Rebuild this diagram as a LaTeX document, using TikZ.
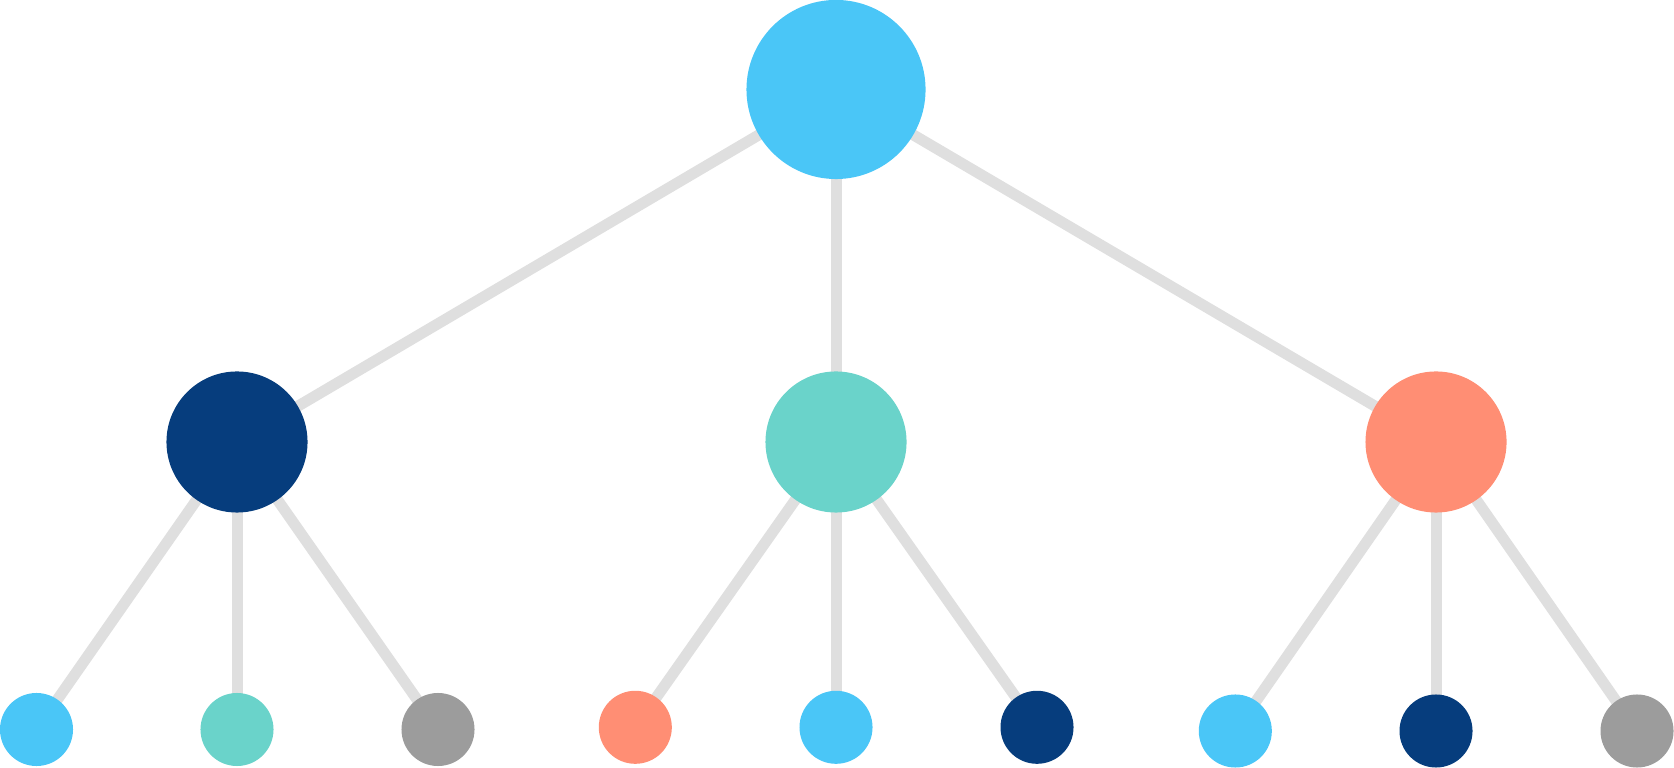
\documentclass[tikz,border=0pt]{standalone}
\usetikzlibrary{backgrounds}
\definecolor{cblue}{HTML}{4AC6F7}
\definecolor{cnavy}{HTML}{063D7D}
\definecolor{cteal}{HTML}{6AD3CA}
\definecolor{csalmon}{HTML}{FF8E74}
\definecolor{cgray}{HTML}{9C9C9C}
\definecolor{cline}{HTML}{DFDFDF}
\begin{document}
\begin{tikzpicture}[x=0.01cm,y=-0.01cm,
  dot/.style={circle,inner sep=0pt,outer sep=0pt,draw=none},
  rootdot/.style={dot,minimum size=1.79cm},
  middot/.style={dot,minimum size=1.41cm},
  leafdot/.style={dot,minimum size=0.73cm},
  edge/.style={draw=cline,line width=0.11cm}]
\useasboundingbox (0,0) rectangle (1674,768);
\node[rootdot,fill=cblue] (r) at (836,89.5) {};
\node[middot,fill=cnavy] (a) at (237,442) {};
\node[middot,fill=cteal] (b) at (836,442) {};
\node[middot,fill=csalmon] (c) at (1436,442) {};
\node[leafdot,fill=cblue] (a1) at (36.5,729.5) {};
\node[leafdot,fill=cteal] (a2) at (237,729.5) {};
\node[leafdot,fill=cgray] (a3) at (438,729.5) {};
\node[leafdot,fill=csalmon] (b1) at (635.3,727.3) {};
\node[leafdot,fill=cblue] (b2) at (836,727.3) {};
\node[leafdot,fill=cnavy] (b3) at (1037,727.3) {};
\node[leafdot,fill=cblue] (c1) at (1235.3,731) {};
\node[leafdot,fill=cnavy] (c2) at (1436,731) {};
\node[leafdot,fill=cgray] (c3) at (1637,731) {};
\begin{pgfonlayer}{background}
\foreach \p/\q in {r/a,r/b,r/c,a/a1,a/a2,a/a3,b/b1,b/b2,b/b3,c/c1,c/c2,c/c3}
  \draw[edge] (\p.center) -- (\q.center);
\end{pgfonlayer}
\end{tikzpicture}
\end{document}
